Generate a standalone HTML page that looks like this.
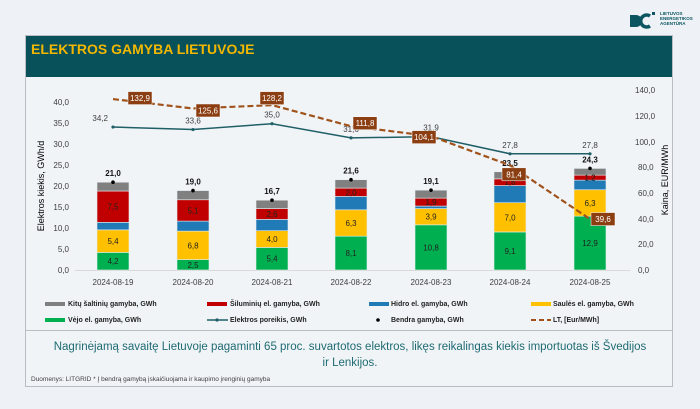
<!DOCTYPE html>
<html><head><meta charset="utf-8"><style>
body{margin:0;width:700px;height:404px;background:#eef2f6;overflow:hidden;font-family:"Liberation Sans",sans-serif}
svg text{font-family:"Liberation Sans",sans-serif}
</style></head><body>
<svg width="700" height="404" viewBox="0 0 700 404" xmlns="http://www.w3.org/2000/svg">
<rect width="700" height="404" fill="#eef2f6"/>
<g transform="translate(628,12)">
<path d="M2 3 h6 a6 6 0 0 1 0 12 h-6z" fill="#0b5560"/>
<path d="M22 4 a6 6 0 1 0 0 10" stroke="#0b5560" stroke-width="3.5" fill="none"/>
<rect x="24" y="0" width="3" height="3" fill="#0b5560"/>
</g>
<text x="660" y="15" font-size="4.5" fill="#0b5560" font-weight="bold">LIETUVOS</text>
<text x="660" y="20" font-size="4.5" fill="#0b5560" font-weight="bold">ENERGETIKOS</text>
<text x="660" y="25" font-size="4.5" fill="#0b5560" font-weight="bold">AGENTŪRA</text>
<rect x="25.5" y="35.5" width="647" height="351" fill="#f0f4f7" stroke="#b8bec4"/>
<rect x="26" y="36" width="646" height="41" fill="#08505a"/>
<text x="31" y="54" font-size="14" font-weight="bold" fill="#f2b700">ELEKTROS GAMYBA LIETUVOJE</text>
<line x1="26" y1="330.5" x2="672" y2="330.5" stroke="#b8bec4"/>
<line x1="75" y1="270.5" x2="630" y2="270.5" stroke="#d9d9d9"/>
<g font-size="8" fill="#404040" text-anchor="end">
<text x="69" y="273">0,0</text><text x="69" y="252">5,0</text><text x="69" y="231">10,0</text><text x="69" y="210">15,0</text><text x="69" y="189">20,0</text><text x="69" y="168">25,0</text><text x="69" y="147">30,0</text><text x="69" y="126">35,0</text><text x="69" y="105">40,0</text>
</g>
<g font-size="8" fill="#404040">
<text x="638" y="273">0,0</text><text x="638" y="247">20,0</text><text x="638" y="222">40,0</text><text x="638" y="196">60,0</text><text x="638" y="170">80,0</text><text x="635" y="145">100,0</text><text x="635" y="119">120,0</text><text x="635" y="93">140,0</text>
</g>
<text transform="translate(44,186) rotate(-90)" font-size="9" fill="#000" text-anchor="middle">Elektros kiekis, GWh/d</text>
<text transform="translate(668,180) rotate(-90)" font-size="9" fill="#000" text-anchor="middle">Kaina, EUR/MWh</text>
<g font-size="8" fill="#404040" text-anchor="middle">
<text x="113" y="285">2024-08-19</text><text x="193" y="285">2024-08-20</text><text x="272" y="285">2024-08-21</text><text x="351" y="285">2024-08-22</text><text x="431" y="285">2024-08-23</text><text x="510" y="285">2024-08-24</text><text x="590" y="285">2024-08-25</text>
</g>
<g id="bars" stroke="#e6ecf0" stroke-width="0.6"></g>
<g id="labels" font-size="8" text-anchor="middle"></g>
<g id="lines"></g>
<g font-size="7" font-weight="bold" fill="#222">
<rect x="45" y="302" width="20" height="4" fill="#808080"/><text x="68" y="306">Kitų šaltinių gamyba,  GWh</text>
<rect x="207" y="302" width="20" height="4" fill="#c00000"/><text x="230" y="306">Šiluminių el. gamyba, GWh</text>
<rect x="369" y="302" width="20" height="4" fill="#1f7ab5"/><text x="391" y="306">Hidro el. gamyba, GWh</text>
<rect x="531" y="302" width="20" height="4" fill="#ffc000"/><text x="553" y="306">Saulės el. gamyba, GWh</text>
<rect x="45" y="318" width="20" height="4" fill="#00b050"/><text x="68" y="322">Vėjo el. gamyba, GWh</text>
<line x1="207" y1="320" x2="228" y2="320" stroke="#1f5f66" stroke-width="1.5"/><circle cx="217" cy="320" r="1.6" fill="#1f5f66"/><text x="230" y="322">Elektros poreikis, GWh</text>
<circle cx="378" cy="320" r="1.8" fill="#000"/><text x="391" y="322">Bendra gamyba, GWh</text>
<line x1="531" y1="320" x2="551" y2="320" stroke="#a0521b" stroke-width="2" stroke-dasharray="5,3"/><text x="553" y="322">LT, [Eur/MWh]</text>
</g>
<text x="350" y="350" font-size="11.5" fill="#1f6b72" text-anchor="middle">Nagrinėjamą savaitę Lietuvoje pagaminti 65 proc. suvartotos elektros, likęs reikalingas kiekis importuotas iš Švedijos</text>
<text x="350" y="366" font-size="11.5" fill="#1f6b72" text-anchor="middle">ir Lenkijos.</text>
<text x="31" y="381" font-size="6.5" fill="#404040">Duomenys: LITGRID    * Į bendrą gamybą įskaičiuojama ir kaupimo įrenginių gamyba</text>
</svg>
<script>
const xs=[113,193,272,351,431,510,590];
const d=[[4.2,5.4,1.8,7.5,2.1],[2.5,6.8,2.4,5.1,2.2],[5.4,4.0,2.7,2.6,2.0],[8.1,6.3,3.2,2.0,2.0],[10.8,3.9,0.6,1.9,1.9],[9.1,7.0,4.1,1.6,1.7],[12.9,6.3,2.3,1.2,1.6]];
const tot=["21,0","19,0","16,7","21,6","19,1","23,5","24,3"];
const cols=["#00b050","#ffc000","#1f7ab5","#c00000","#808080"];
const lab=[0,1,-1,3,-1];
const Y=v=>270-4.18*v, R=v=>270-1.286*v;
const ns="http://www.w3.org/2000/svg";
function el(p,t,a,txt){const e=document.createElementNS(ns,t);for(const k in a)e.setAttribute(k,a[k]);if(txt!=null)e.textContent=txt;document.getElementById(p).appendChild(e);return e;}
d.forEach((r,i)=>{let c=0;r.forEach((v,j)=>{el("bars","rect",{x:xs[i]-16,y:Y(c+v),width:32,height:v*4.18,fill:cols[j]});
if(lab[j]>=0)el("labels","text",{x:xs[i],y:Y(c+v/2)+3,fill:"#222"},v.toFixed(1).replace(".",","));c+=v;});
el("labels","circle",{cx:xs[i],cy:Y(c),r:1.8,fill:"#000"});
el("labels","text",{x:xs[i],y:Y(c)-6,"font-weight":"bold",fill:"#111"},tot[i]);});
const dem=[34.2,33.6,35.0,31.6,31.9,27.8,27.8];
el("lines","polyline",{points:dem.map((v,i)=>xs[i]+","+Y(v)).join(" "),fill:"none",stroke:"#1f5f66","stroke-width":1.5});
dem.forEach((v,i)=>{el("lines","circle",{cx:xs[i],cy:Y(v),r:1.6,fill:"#1f5f66"});el("lines","text",{x:xs[i]+(i==0?-5:0),y:Y(v)-6,"font-size":8,fill:"#404040","text-anchor":i==0?"end":"middle"},v.toFixed(1).replace(".",","));});
const pr=[132.9,125.6,128.2,111.8,104.1,81.4,39.6];
el("lines","polyline",{points:pr.map((v,i)=>xs[i]+","+R(v)).join(" "),fill:"none",stroke:"#a0521b","stroke-width":2.2,"stroke-dasharray":"6,3"});
const off=[[27,-1],[15,2],[0,-7],[14,-3],[-7,1],[4,9],[13,0]];
pr.forEach((v,i)=>{const cx=xs[i]+off[i][0],cy=R(v)+off[i][1];el("lines","rect",{x:cx-12,y:cy-6.5,width:24,height:13,fill:"#8b3e12",stroke:"#fff","stroke-width":0.5});
el("lines","text",{x:cx,y:cy+3,"font-size":8,fill:"#fff","text-anchor":"middle"},v.toFixed(1).replace(".",","));});
</script>
</body></html>
